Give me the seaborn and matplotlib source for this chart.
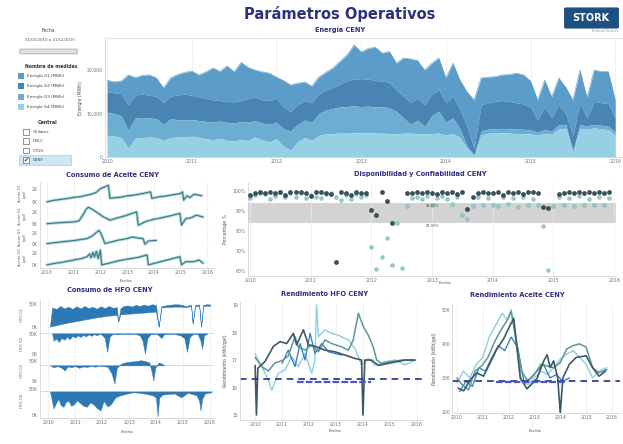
import numpy as np
import matplotlib
matplotlib.use("Agg")
import matplotlib.pyplot as plt
import matplotlib.patches as mpatches
import seaborn as sns

# ---------------- data ----------------
# Energia CENY, monthly 2010-01 .. 2016-01, stacked tops (MWh)
fecha_mes = 2010 + np.arange(73) / 12
tope_g4 = [5.0, 4.8, 4.5, 2.0, 4.3, 4.5, 4.6, 4.5, 3.8, 4.5, 4.6, 4.6, 4.8, 4.5, 4.2, 4.0, 4.3, 3.8, 3.7, 4.0,
           3.8, 4.6, 3.9, 3.5, 4.2, 2.4, 1.6, 3.5, 4.5, 3.8, 5.0, 5.3, 5.4, 5.5, 5.5, 5.6, 5.5, 5.6, 5.5, 5.5,
           5.4, 5.3, 5.5, 5.5, 5.4, 5.3, 5.4, 5.5, 5.0, 5.4, 4.5, 2.0, 0.3, 5.0, 5.5, 5.5, 5.6, 5.5, 5.4, 5.4,
           5.3, 5.0, 5.4, 5.2, 6.5, 6.6, 1.0, 6.5, 6.4, 6.7, 6.5, 6.3, 5.0]
tope_g3 = [10.3, 10.0, 9.5, 6.2, 9.0, 9.1, 9.0, 8.8, 7.5, 8.8, 8.6, 8.5, 8.6, 8.4, 8.2, 8.0, 8.3, 8.0, 7.8, 8.2,
           8.0, 8.4, 7.8, 7.5, 8.0, 6.5, 6.0, 7.5, 8.5, 8.0, 10.0, 10.8, 11.2, 11.5, 11.6, 11.8, 11.6, 11.7, 11.5, 11.6,
           11.3, 10.5, 9.0, 7.5, 8.5, 7.0, 9.5, 10.5, 8.0, 9.0, 6.5, 2.5, 0.5, 6.0, 6.4, 6.5, 6.6, 6.5, 6.4, 6.4,
           6.2, 5.8, 6.3, 6.0, 7.4, 7.5, 1.5, 7.4, 7.2, 7.5, 7.3, 7.1, 5.8]
tope_g2 = [15.0, 14.8, 14.6, 12.0, 14.3, 14.5, 14.2, 14.0, 12.5, 14.0, 14.3, 14.5, 14.2, 13.8, 13.5, 13.2, 13.0, 12.8, 12.7, 13.0,
           13.5, 13.8, 13.2, 13.0, 13.5, 11.5, 10.5, 12.0, 13.0, 12.5, 14.5, 15.5, 16.0, 16.8, 17.5, 18.0, 17.8, 18.0, 17.6, 17.5,
           17.2, 15.5, 14.0, 12.5, 13.5, 12.0, 14.5, 15.5, 12.5, 14.0, 11.0, 7.0, 2.0, 12.0, 12.5, 12.8, 13.0, 12.8, 12.5, 12.2,
           11.5, 8.5, 11.5, 9.0, 12.0, 10.0, 5.0, 12.5, 9.0, 12.8, 12.5, 12.3, 9.0]
tope_g1 = [17.7, 17.3, 17.5, 18.9, 18.3, 18.8, 18.9, 18.2, 15.9, 18.2, 19.0, 19.5, 19.8, 18.9, 19.6, 20.5, 19.7, 21.0, 19.6, 21.8,
           20.6, 20.0, 19.6, 19.3, 18.4, 17.6, 16.6, 17.0, 17.3, 16.3, 18.4, 19.5, 20.5, 22.0, 23.5, 25.8, 24.2, 25.0, 25.3, 23.9,
           24.3, 21.6, 22.8, 22.6, 22.2, 20.0, 21.6, 22.8, 18.2, 21.6, 17.7, 15.0, 13.1, 18.2, 18.4, 18.5, 18.9, 19.0, 19.3, 18.9,
           17.5, 13.1, 17.7, 13.8, 18.2, 16.0, 13.1, 20.0, 13.6, 20.0, 19.7, 19.7, 13.1]
medidas = ["Energía G1 (MWh)", "Energía G2 (MWh)", "Energía G3 (MWh)", "Energía G4 (MWh)"]
centrales = ["Chilatec", "CNLC", "CTUS", "CENY"]
anios = [2010, 2011, 2012, 2013, 2014, 2015, 2016]

# Consumo de aceite (4 generadores)
ac1_x = [2010.0, 2010.25, 2010.5, 2010.75, 2011.0, 2011.25, 2011.5, 2011.7, 2011.85, 2012.0, 2012.15, 2012.3, 2012.36,
         2012.5, 2012.7, 2012.85, 2013.0, 2013.2, 2013.4, 2013.6, 2013.88, 2013.93, 2014.05, 2014.2, 2014.4, 2014.6,
         2014.8, 2015.0, 2015.08, 2015.12, 2015.25, 2015.35, 2015.5, 2015.65, 2015.8]
ac1_y = [14, 20, 24, 28, 33, 36, 43, 48, 55, 71, 78, 86, 29, 31, 33, 36, 40, 42, 46, 50, 57, 29, 32, 36, 38, 42,
         46, 50, 57, 21, 40, 32, 46, 44, 40]
ac2_x = [2010.0, 2010.5, 2011.0, 2011.2, 2011.35, 2011.45, 2011.55, 2011.7, 2011.9, 2012.1, 2012.36, 2012.6, 2012.9,
         2013.1, 2013.36, 2013.42, 2013.7, 2014.0, 2014.3, 2014.6, 2014.98, 2015.04, 2015.2, 2015.4, 2015.6, 2015.85]
ac2_y = [15, 20, 23, 28, 55, 78, 90, 80, 64, 47, 31, 40, 50, 58, 69, 8, 25, 35, 42, 50, 62, 8, 38, 42, 54, 45]
ac3_x = [2010.0, 2010.5, 2011.0, 2011.5, 2011.7, 2011.87, 2011.95, 2012.05, 2012.17, 2012.4, 2012.7, 2013.0, 2013.2,
         2013.4, 2013.6, 2013.67, 2013.8, 2014.1]
ac3_y = [17, 25, 32, 42, 55, 75, 83, 60, 17, 25, 35, 42, 50, 45, 42, 14, 30, 33]
ac4_x = [2010.0, 2010.3, 2010.6, 2011.0, 2011.3, 2011.5, 2011.6, 2011.65, 2011.72, 2011.78, 2011.85, 2011.92, 2012.0,
         2012.05, 2012.3, 2012.7, 2013.0, 2013.4, 2013.75, 2013.8, 2014.1, 2014.5, 2014.98, 2015.04, 2015.2, 2015.5,
         2015.7, 2015.85]
ac4_y = [15, 22, 28, 38, 45, 54, 68, 48, 75, 52, 80, 45, 85, 15, 22, 35, 42, 50, 62, 15, 25, 38, 54, 15, 30, 30, 38, 23]

# Disponibilidad (oscuro) y confiabilidad (claro), mensual 2010-2015 (%)
disp = [98.2, 99.0, 99.5, 99.2, 99.6, 98.8, 99.4, 97.8, 99.5, 99.3, 99.6, 99.0,
        97.6, 99.4, 99.5, 99.2, 98.5, 64.5, 99.3, 99.1, 98.0, 99.4, 99.2, 98.9,
        90.5, 88.0, 99.3, 95.0, 84.0, np.nan, np.nan, 98.8, 99.2, 99.4, 99.0, 99.5,
        99.2, 98.6, 99.5, 99.0, 99.3, 98.4, 99.4, 91.0, 97.0, 99.2, 99.5, 98.8,
        99.0, 99.4, 98.2, 99.5, 99.1, 99.3, 98.7, 99.4, 99.5, 99.0, 92.0, 91.5,
        np.nan, 98.5, 99.2, 99.5, 99.0, 99.4, 99.2, 99.6, 99.1, 99.4, 99.2, 99.5]
conf = [96.5, 97.8, 99.0, 98.5, 96.0, 97.5, 99.3, 96.8, 98.8, 97.0, 99.0, 96.5,
        98.0, 97.2, 96.5, 98.6, 99.0, 97.0, 95.5, 97.8, 96.0, 98.5, 97.0, 98.0,
        72.0, 61.0, 67.0, 76.5, 63.0, 84.0, 61.5, 92.5, 96.5, 97.0, 96.0, 97.5,
        93.0, 96.5, 97.5, 96.0, 93.5, 97.0, 88.0, 86.0, 92.5, 97.0, 93.0, 96.5,
        93.0, 92.5, 97.0, 93.5, 96.5, 92.0, 97.0, 92.8, 96.0, 93.0, 82.5, 60.5,
        92.5, 97.0, 93.0, 96.5, 92.5, 97.5, 93.0, 96.0, 92.8, 97.2, 93.0, 96.5]
banda_sup, banda_inf = 94.0, 84.0

# Consumo de HFO (4 generadores)
hfo1_x = [2010.07, 2010.15, 2010.3, 2010.45, 2010.6, 2010.75, 2010.9, 2011.05, 2011.2, 2011.35, 2011.5, 2011.65,
          2011.8, 2011.95, 2012.1, 2012.25, 2012.4, 2012.55, 2012.6, 2012.68, 2012.8, 2012.95, 2013.1, 2013.25,
          2013.4, 2013.55, 2013.7, 2013.85, 2014.0, 2014.1, 2014.2, 2014.35, 2014.5, 2014.7, 2014.9, 2015.1,
          2015.3, 2015.36, 2015.45, 2015.6, 2015.67, 2015.75, 2015.9, 2016.0]
hfo1_sup = [15, 75, 70, 80, 72, 78, 70, 79, 72, 80, 73, 78, 71, 79, 73, 80, 74, 76, 28, 72, 80, 82, 78, 84,
            80, 85, 81, 86, 83, 11, 80, 82, 84, 86, 85, 80, 84, 22, 84, 85, 11, 84, 86, 85]
hfo1_inf = [11, 13, 16, 19, 22, 25, 27, 30, 32, 35, 37, 40, 42, 44, 46, 48, 49, 50, 28, 52, 53, 54, 55, 56,
            57, 58, 59, 60, 61, 11, 75, 76, 77, 78, 78, 76, 80, 22, 80, 80, 11, 80, 81, 80]
hfo2_x = [2010.15, 2010.2, 2010.3, 2010.4, 2010.5, 2010.6, 2010.7, 2010.8, 2010.9, 2011.0, 2011.1, 2011.2, 2011.3,
          2011.4, 2011.5, 2011.6, 2011.7, 2011.8, 2011.9, 2012.0, 2012.1, 2012.19, 2012.28, 2012.4, 2012.6, 2012.8,
          2013.0, 2013.2, 2013.4, 2013.5, 2013.59, 2013.68, 2013.8, 2014.0, 2014.1, 2014.2, 2014.3, 2014.5, 2014.7,
          2014.9, 2015.05, 2015.15, 2015.25, 2015.4, 2015.55, 2015.65, 2015.71, 2015.78, 2015.9]
hfo2_y = [87.5, 60, 68, 56, 70, 64, 75, 66, 78, 72, 80, 74, 82, 76, 84, 78, 85, 80, 86, 82, 70, 19, 75, 86, 84, 86,
          85, 86, 80, 60, 12, 70, 84, 86, 80, 70, 84, 86, 85, 80, 70, 19, 75, 86, 84, 60, 30, 80, 86]
hfo3_x = [2010.07, 2010.2, 2010.35, 2010.5, 2010.62, 2010.72, 2010.85, 2011.0, 2011.15, 2011.3, 2011.45, 2011.6,
          2011.75, 2011.9, 2012.05, 2012.2, 2012.35, 2012.46, 2012.55, 2012.7, 2012.85, 2013.0, 2013.15, 2013.3,
          2013.45, 2013.6, 2013.75, 2013.85, 2013.9, 2013.97, 2014.1, 2014.2, 2014.3]
hfo3_y = [69, 62, 66, 60, 50, 65, 62, 66, 60, 65, 63, 67, 64, 68, 66, 64, 40, 2, 60, 75, 80, 82, 84, 86,
          88, 85, 80, 40, 12, 60, 80, 76, 70]
hfo4_x = [2010.07, 2010.2, 2010.3, 2010.38, 2010.47, 2010.57, 2010.66, 2010.76, 2010.85, 2010.94, 2011.07, 2011.19,
          2011.3, 2011.44, 2011.56, 2011.69, 2011.8, 2011.94, 2012.06, 2012.2, 2012.31, 2012.5, 2012.69, 2012.94,
          2013.18, 2013.56, 2013.87, 2014.0, 2014.06, 2014.12, 2014.25, 2014.68, 2014.93, 2015.18, 2015.5, 2015.6,
          2015.65, 2015.71, 2015.81, 2016.06]
hfo4_y = [78, 28, 45, 56, 38, 33, 48, 50, 36, 39, 52, 44, 36, 33, 46, 39, 30, 22, 50, 34, 39, 61, 67, 72,
          76, 72, 67, 60, 5, 60, 69, 72, 61, 74, 67, 50, 22, 55, 72, 76]
hfo_base = [None, 87.5, 69, 78]

# Rendimiento HFO (kWh/gal)
rh_a_x = [2010.0, 2010.05, 2010.1, 2010.37, 2010.68, 2010.93, 2011.17, 2011.42, 2011.54, 2011.79, 2011.98, 2012.22,
          2012.59, 2012.96, 2013.33, 2013.7, 2013.95, 2014.0, 2014.07, 2014.32, 2014.57, 2014.94, 2015.25, 2015.56, 2015.93]
rh_a_y = [16.8, 15.0, 16.7, 16.95, 17.5, 17.67, 17.6, 17.97, 17.55, 18.1, 17.55, 17.5,
          17.36, 17.3, 17.18, 17.06, 17.0, 15.0, 17.0, 17.0, 16.8, 16.88, 16.94, 17.0, 17.0]
rh_b_x = [2010.0, 2010.25, 2010.49, 2010.74, 2010.99, 2011.23, 2011.48, 2011.6, 2011.85, 2012.1, 2012.35, 2012.59,
          2012.84, 2013.21, 2013.46, 2013.64, 2013.83, 2014.02, 2014.2, 2014.38, 2014.51, 2014.69, 2015.06, 2015.43, 2015.93]
rh_b_y = [17.1, 16.76, 16.6, 16.9, 16.97, 17.15, 17.85, 17.48, 17.36, 17.55, 17.3, 17.73,
          17.6, 17.48, 17.36, 17.73, 18.7, 18.2, 17.9, 17.48, 17.0, 16.88, 16.94, 17.0, 17.0]
rh_c_x = [2010.0, 2010.25, 2010.49, 2010.62, 2010.86, 2011.11, 2011.36, 2011.6, 2011.85, 2012.1, 2012.22, 2012.28,
          2012.35, 2012.59, 2012.84, 2013.09, 2013.46, 2013.7, 2013.95, 2014.2, 2014.44, 2014.81, 2015.19, 2015.56, 2015.93]
rh_c_y = [17.22, 16.76, 16.27, 15.9, 16.52, 16.64, 17.12, 16.76, 17.24, 16.52, 17.0, 19.0,
          17.85, 18.1, 17.97, 17.9, 17.73, 17.42, 16.82, 17.06, 16.82, 16.94, 17.0, 16.82, 17.0]
rh_d_x = [2011.0, 2011.23, 2011.48, 2011.67, 2011.85, 2012.04, 2012.22, 2012.47, 2012.72, 2012.96, 2013.21]
rh_d_y = [16.88, 17.36, 16.76, 17.6, 17.0, 17.97, 17.24, 17.6, 17.3, 17.24, 17.18]
rh_meta, rh_meta2 = 16.3, 16.2

# Rendimiento aceite (kWh/gal)
ra_a_x = [2010.05, 2010.26, 2010.52, 2010.77, 2011.03, 2011.29, 2011.55, 2011.81, 2012.06, 2012.2, 2012.45, 2012.71,
          2013.1, 2013.36, 2013.49, 2013.61, 2013.74, 2013.9, 2014.0, 2014.1, 2014.35, 2014.61, 2015.0, 2015.25, 2015.5, 2015.75]
ra_a_y = [270, 262, 295, 315, 305, 345, 385, 415, 455, 475, 300, 268, 298, 350, 368, 330, 350, 300, 197, 300, 340,
          360, 365, 330, 305, 320]
ra_b_x = [2010.0, 2010.2, 2010.45, 2010.7, 2010.95, 2011.2, 2011.45, 2011.7, 2011.95, 2012.1, 2012.25, 2012.5, 2012.75,
          2013.0, 2013.25, 2013.5, 2013.75, 2014.0, 2014.25, 2014.5, 2014.75, 2015.0, 2015.25, 2015.5, 2015.8]
ra_b_y = [300, 280, 265, 320, 335, 360, 405, 440, 470, 495, 430, 320, 290, 310, 340, 335, 330, 345, 385, 395, 400,
          390, 330, 315, 325]
ra_c_x = [2010.0, 2010.25, 2010.5, 2010.75, 2011.0, 2011.25, 2011.5, 2011.75, 2011.95, 2012.1, 2012.3, 2012.5, 2012.75,
          2013.0, 2013.25, 2013.5, 2013.75, 2014.0, 2014.25, 2014.5, 2014.75, 2015.0, 2015.25, 2015.5, 2015.8]
ra_c_y = [285, 320, 300, 340, 360, 420, 455, 490, 470, 500, 400, 290, 280, 300, 320, 310, 330, 355, 370, 380, 360,
          340, 300, 320, 330]
ra_d_x = [2010.1, 2010.35, 2010.6, 2010.85, 2011.1, 2011.35, 2011.6, 2011.85, 2012.1, 2012.35, 2012.6, 2012.85, 2013.1,
          2013.35, 2013.6, 2013.85, 2014.1, 2014.35]
ra_d_y = [260, 290, 275, 330, 320, 360, 395, 380, 420, 390, 285, 300, 320, 340, 300, 310, 290, 300]
ra_meta, ra_meta2 = 292, 288

# ---------------- figure ----------------
sns.set_style("white")
plt.rcParams["font.family"] = ["DejaVu Sans"]

W, H = 623, 444
fig = plt.figure(figsize=(W / 100, H / 100), dpi=100)
NAVY = "#2d2f7f"
TICK = "#707070"
GRID = "#ececec"
col_g = ["#5b9cc8", "#4a84b3", "#6caed1", "#98d0e3"]


def px_axes(x0, y0, x1, y1):
    return fig.add_axes([x0 / W, 1 - y1 / H, (x1 - x0) / W, (y1 - y0) / H])


def ftext(x, y, s, **kw):
    fig.text(x / W, 1 - y / H, s, **kw)


def style(ax, xticks=True):
    for s in ["top", "right"]:
        ax.spines[s].set_visible(False)
    for s in ["left", "bottom"]:
        ax.spines[s].set_color("#d4d4d4")
        ax.spines[s].set_linewidth(0.6)
    ax.tick_params(labelsize=3.3, length=0, colors=TICK, pad=1.5)
    ax.set_xticks(anios)
    if xticks:
        ax.set_xticklabels([str(a) for a in anios])
    else:
        ax.set_xticklabels([])
    ax.xaxis.grid(True, color=GRID, lw=0.5)
    ax.set_axisbelow(True)
    ax.set_xlabel("")
    ax.set_ylabel("")


# header
ftext(340, 14, "Parámetros Operativos", ha="center", va="center", fontsize=10.5,
      fontweight="bold", color=NAVY)
ftext(340, 30, "Energía CENY", ha="center", va="center", fontsize=4.8, fontweight="bold", color=NAVY)
logo = mpatches.FancyBboxPatch((566 / W, 1 - 27 / H), 51 / W, 18 / H, boxstyle="round,pad=0.002",
                               transform=fig.transFigure, fc="#1d4f80", ec="#1d4f80")
fig.patches.append(logo)
ftext(591, 18, "STORK", ha="center", va="center", fontsize=7, fontweight="bold", color="white")
ftext(605, 31, "Technical Services", ha="center", va="center", fontsize=2.2, color="#888888")

# left filter panel
ftext(48, 30, "Fecha", ha="center", va="center", fontsize=3.3, color="#444444")
ftext(50, 40, "01/01/2010 a 31/12/2015", ha="center", va="center", fontsize=2.8, color="#555555")
fig.patches.append(mpatches.FancyBboxPatch((21 / W, 1 - 53 / H), 55 / W, 3 / H, boxstyle="round,pad=0.002",
                                           transform=fig.transFigure, fc="#e2e2e2", ec="#9a9a9a", lw=0.5))
ftext(51, 67, "Nombre de medidas", ha="center", va="center", fontsize=3.3, fontweight="bold", color="#333333")
for i, (m, c) in enumerate(zip(medidas, col_g)):
    y = 76 + i * 10.3
    fig.patches.append(mpatches.Rectangle((18 / W, 1 - (y + 3) / H), 6 / W, 6 / H,
                                          transform=fig.transFigure, fc=c, ec="none"))
    ftext(27, y, m, ha="left", va="center", fontsize=3.0, color="#444444")
ftext(48, 122, "Central", ha="center", va="center", fontsize=3.4, fontweight="bold", color="#333333")
fig.patches.append(mpatches.Rectangle((19 / W, 1 - 165 / H), 52 / W, 10 / H,
                                      transform=fig.transFigure, fc="#cde8f4", ec="#9fd0e6", lw=0.5))
for i, c in enumerate(centrales):
    y = 132 + i * 9.3
    fig.patches.append(mpatches.Rectangle((23 / W, 1 - (y + 2.8) / H), 5.6 / W, 5.6 / H,
                                          transform=fig.transFigure, fc="white", ec="#666666", lw=0.5))
    ftext(33, y, c, ha="left", va="center", fontsize=3.0, color="#444444")
    if c == "CENY":
        ftext(25.8, y, "✔", ha="center", va="center", fontsize=4.5, color="#333333")

# main stacked area chart
ax = px_axes(105, 38, 622, 157)
sns.lineplot(x=fecha_mes, y=tope_g1, ax=ax, color=col_g[0], lw=0.4, legend=False)
ax.fill_between(fecha_mes, tope_g2, tope_g1, color=col_g[0], lw=0)
ax.fill_between(fecha_mes, tope_g3, tope_g2, color=col_g[1], lw=0)
ax.fill_between(fecha_mes, tope_g4, tope_g3, color=col_g[2], lw=0)
ax.fill_between(fecha_mes, 0, tope_g4, color=col_g[3], lw=0)
style(ax)
ax.spines["top"].set_visible(True)
ax.spines["top"].set_color("#e4e4e4")
ax.set_xlim(2009.976, 2016.08)
ax.set_ylim(0, 27.4)
ax.set_yticks([0, 10, 20])
ax.set_yticklabels(["0", "10,000", "20,000"])
ax.set_ylabel("Energía (MWh)", fontsize=3.3, color="#555555", labelpad=3)

# consumo de aceite
ftext(112, 175, "Consumo de Aceite CENY", ha="center", va="center", fontsize=4.8, fontweight="bold", color=NAVY)
filas_ac = [(182, 205, ac1_x, ac1_y), (205, 227, ac2_x, ac2_y), (227, 247, ac3_x, ac3_y), (247, 268, ac4_x, ac4_y)]
for k, (y0, y1, xs, ys) in enumerate(filas_ac):
    a = px_axes(40, y0, 213, y1)
    sns.lineplot(x=xs, y=ys, ax=a, color="#b9dcd9", lw=2.2, legend=False)
    sns.lineplot(x=xs, y=ys, ax=a, color="#3b7f8c", lw=0.9, legend=False)
    style(a, xticks=(k == 3))
    a.set_xlim(2009.74, 2016.22)
    a.set_ylim(0, 100)
    a.set_yticks([15, 70])
    a.set_yticklabels(["0K", "2K"])
    a.set_ylabel(f"Aceite G{k + 1}\n(gal)", fontsize=2.6, color="#666666", labelpad=4)
ftext(126, 281, "Fecha", ha="center", va="center", fontsize=3.2, color="#555555")

# disponibilidad y confiabilidad
ftext(420, 174, "Disponibilidad y Confiabilidad CENY", ha="center", va="center", fontsize=4.8,
      fontweight="bold", color=NAVY)
ad = px_axes(248, 182, 616, 276)
ad.axhspan(banda_inf, banda_sup, color="#d3d3d3", lw=0, zorder=0)
sns.scatterplot(x=fecha_mes[:72], y=conf, ax=ad, color="#8fd0cc", s=7, edgecolor="#5aa5a5", linewidth=0.3,
                zorder=3, legend=False)
sns.scatterplot(x=fecha_mes[:72], y=disp, ax=ad, color="#38525c", s=9, edgecolor="#1d2b30", linewidth=0.3,
                zorder=4, legend=False)
style(ad)
ad.set_xlim(2009.967, 2016.03)
ad.set_ylim(57.5, 104.5)
ad.set_yticks([60, 70, 80, 90, 100])
ad.set_yticklabels(["60%", "70%", "80%", "90%", "100%"])
ad.text(2013.0, banda_sup - 0.6, "94.00%", fontsize=2.5, color="#555555", ha="center", va="top")
ad.text(2013.0, banda_inf - 0.6, "84.00%", fontsize=2.5, color="#555555", ha="center", va="top")
ad.set_ylabel("Porcentaje %", fontsize=3.3, color="#555555", labelpad=3)
ftext(445, 283, "Fecha", ha="center", va="center", fontsize=3.2, color="#555555")

# consumo de HFO
ftext(110, 290, "Consumo de HFO CENY", ha="center", va="center", fontsize=4.8, fontweight="bold", color=NAVY)
AZUL = "#2c79b5"
filas_hfo = [(300, 330), (330, 357), (357, 384), (384, 418)]
for k, (y0, y1) in enumerate(filas_hfo):
    a = px_axes(40, y0, 214, y1)
    if k == 0:
        a.fill_between(hfo1_x, hfo1_inf, hfo1_sup, color=AZUL, lw=0.3, ec=AZUL)
    else:
        xs, ys = [(hfo2_x, hfo2_y), (hfo3_x, hfo3_y), (hfo4_x, hfo4_y)][k - 1]
        a.fill_between(xs, hfo_base[k], ys, color=AZUL, lw=0.3, ec=AZUL)
        a.axhline(hfo_base[k], color="#bbbbbb", lw=0.4, zorder=0)
    style(a, xticks=(k == 3))
    a.set_xlim(2009.7, 2016.15)
    a.set_ylim(0, 100)
    a.set_yticks([10, 85])
    a.set_yticklabels(["0K", "50K"])
    a.set_ylabel(f"HFO G{k + 1}", fontsize=2.6, color="#666666", labelpad=4)
ftext(127, 432, "Fecha", ha="center", va="center", fontsize=3.2, color="#555555")

# rendimiento HFO
ftext(325, 294, "Rendimiento HFO CENY", ha="center", va="center", fontsize=4.8, fontweight="bold", color=NAVY)
ah = px_axes(240, 302, 422, 420)
for xs, ys, c, lw in [(rh_c_x, rh_c_y, "#8fcde0", 1.0), (rh_d_x, rh_d_y, "#2f78bd", 0.9),
                      (rh_b_x, rh_b_y, "#5c9697", 1.1), (rh_a_x, rh_a_y, "#3f5866", 1.2)]:
    sns.lineplot(x=xs, y=ys, ax=ah, color=c, lw=lw, legend=False)
ah.axhline(rh_meta, color="#252f86", lw=1.2, ls=(0, (4, 3)))
ah.plot([2011.55, 2014.3], [rh_meta2, rh_meta2], color="#4b55c8", lw=1.6, ls=(0, (3, 1)))
style(ah)
ah.set_xlim(2009.44, 2016.19)
ah.set_ylim(14.82, 19.11)
ah.set_yticks([15, 16, 17, 18, 19])
ah.set_ylabel("Rendimiento (kWh/gal)", fontsize=3.3, color="#555555", labelpad=3)
ftext(335, 431, "Fecha", ha="center", va="center", fontsize=3.2, color="#555555")

# rendimiento aceite
ftext(517, 295, "Rendimiento Aceite CENY", ha="center", va="center", fontsize=4.8, fontweight="bold", color=NAVY)
ar = px_axes(452, 305, 620, 413)
for xs, ys, c, lw in [(ra_c_x, ra_c_y, "#8fcde0", 1.0), (ra_d_x, ra_d_y, "#2f78bd", 0.9),
                      (ra_b_x, ra_b_y, "#5c9697", 1.1), (ra_a_x, ra_a_y, "#3f5866", 1.2)]:
    sns.lineplot(x=xs, y=ys, ax=ar, color=c, lw=lw, legend=False)
ar.axhline(ra_meta, color="#252f86", lw=1.2, ls=(0, (4, 3)))
ar.plot([2011.5, 2014.2], [ra_meta2, ra_meta2], color="#4b55c8", lw=1.6, ls=(0, (3, 1)))
style(ar)
ar.set_xlim(2009.81, 2016.31)
ar.set_ylim(197, 514)
ar.set_yticks([200, 300, 400, 500])
ar.set_ylabel("Rendimiento (kWh/gal)", fontsize=3.3, color="#555555", labelpad=3)
ftext(535, 431, "Fecha", ha="center", va="center", fontsize=3.2, color="#555555")

fig.savefig("out.png", dpi=100, facecolor="white")
